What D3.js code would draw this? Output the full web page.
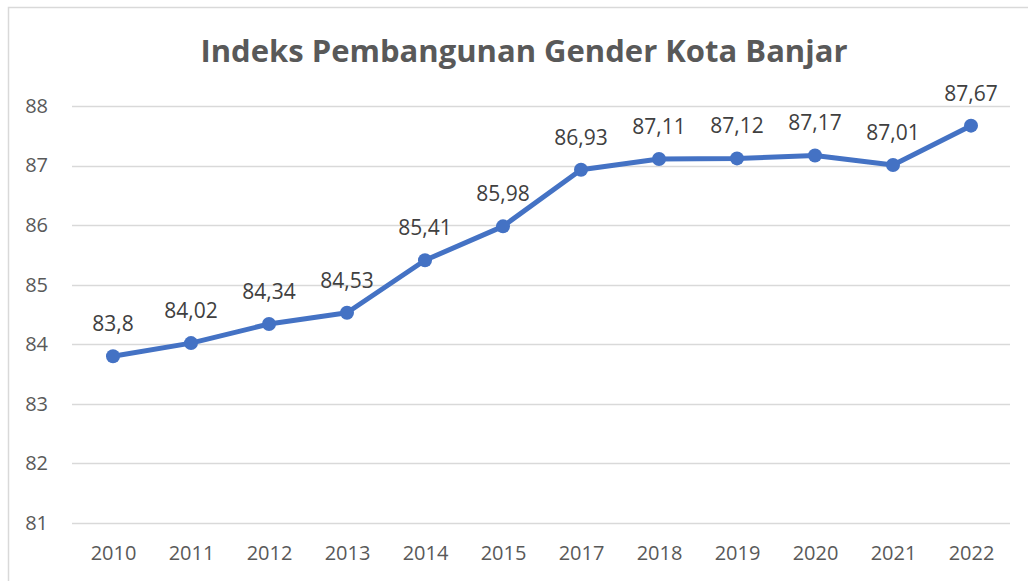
<!DOCTYPE html>
<html>
<head>
<meta charset="utf-8">
<script src="https://cdnjs.cloudflare.com/ajax/libs/d3/7.8.5/d3.min.js"></script>
<style>
  body { margin: 0; background: #fff; }
  svg { display: block; font-family: "Open Sans", sans-serif; }
  .grid line { stroke: #d9d9d9; stroke-width: 1.5; }
  .tick text { fill: #595959; font-size: 20px; }
</style>
</head>
<body>
<script>
// data
var years = ["2010","2011","2012","2013","2014","2015","2017","2018","2019","2020","2021","2022"];
var values = [83.8, 84.02, 84.34, 84.53, 85.41, 85.98, 86.93, 87.11, 87.12, 87.17, 87.01, 87.67];
var yTicks = [81, 82, 83, 84, 85, 86, 87, 88];
var title = "Indeks Pembangunan Gender Kota Banjar";

window.onload = drawChart();

function drawChart(){

    var width = 1028,
        height = 581;

    var svg = d3.select("body")
        .append("svg")
        .attr("width", width)
        .attr("height", height);

    // chart frame (only top and left edges show)
    svg.append("path")
        .attr("d", "M8.5,581 L8.5,7.5 L1028,7.5")
        .attr("fill", "none")
        .attr("stroke", "#d9d9d9")
        .attr("stroke-width", 1.5);

    var x = d3.scalePoint()
        .domain(years)
        .range([113, 971]);

    var y = d3.scaleLinear()
        .domain([81, 88])
        .range([523, 106]);

    // gridlines
    svg.append("g")
        .attr("class", "grid")
        .selectAll("line")
        .data(yTicks)
        .enter()
        .append("line")
        .attr("x1", 72)
        .attr("x2", 1010)
        .attr("y1", function(d){ return Math.round(y(d)) + 0.5; })
        .attr("y2", function(d){ return Math.round(y(d)) + 0.5; });

    // y axis labels
    var yAxis = svg.append("g")
        .attr("transform", "translate(48,0)")
        .call(d3.axisLeft(y).tickValues(yTicks).tickFormat(d3.format("d")).tickSize(0).tickPadding(0))
        .attr("font-family", null)
        .attr("font-size", null);
    yAxis.select(".domain").remove();

    // x axis labels
    var xAxis = svg.append("g")
        .attr("transform", "translate(0,546)")
        .call(d3.axisBottom(x).tickSize(0).tickPadding(0))
        .attr("font-family", null)
        .attr("font-size", null);
    xAxis.select(".domain").remove();

    // title
    svg.append("text")
        .attr("x", 524)
        .attr("y", 62)
        .attr("text-anchor", "middle")
        .attr("font-size", 31)
        .attr("font-weight", "bold")
        .attr("fill", "#595959")
        .text(title);

    var line = d3.line()
        .x(function(d, i){ return x(years[i]); })
        .y(function(d){ return y(d); });

    svg.append("path")
        .datum(values)
        .attr("fill", "none")
        .attr("stroke", "#4472C4")
        .attr("stroke-width", 5)
        .attr("stroke-linejoin", "round")
        .attr("d", line);

    svg.selectAll(".dot")
        .data(values)
        .enter()
        .append("circle")
        .attr("class", "dot")
        .attr("cx", function(d, i){ return x(years[i]); })
        .attr("cy", function(d){ return y(d); })
        .attr("r", 7)
        .attr("fill", "#4472C4");

    svg.selectAll(".lbl")
        .data(values)
        .enter()
        .append("text")
        .attr("class", "lbl")
        .attr("x", function(d, i){ return x(years[i]); })
        .attr("y", function(d){ return y(d) - 25; })
        .attr("text-anchor", "middle")
        .attr("font-size", 21)
        .attr("fill", "#404040")
        .text(function(d){ return String(d).replace(".", ","); });
}
</script>
</body>
</html>
